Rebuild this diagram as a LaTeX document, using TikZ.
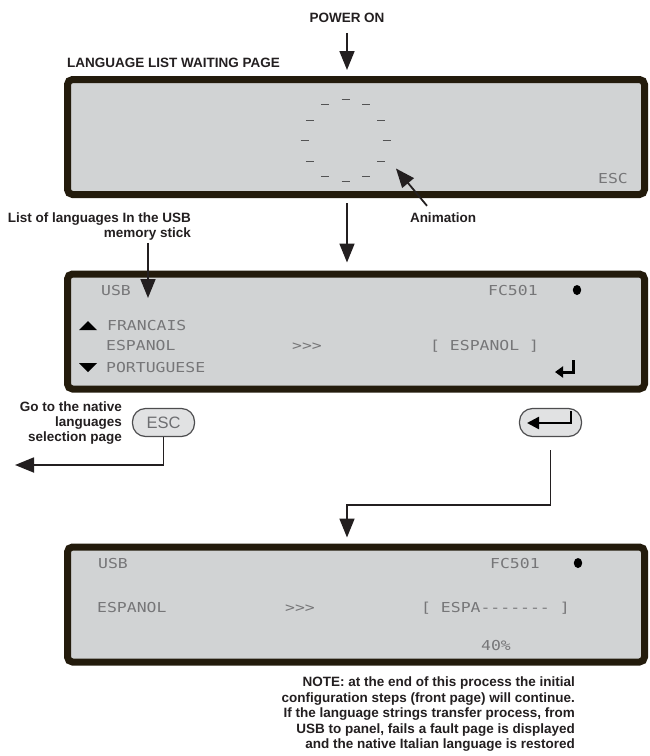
\documentclass[tikz,border=0pt]{standalone}
\usepackage{fontspec}
\setmainfont{Liberation Sans}
\newfontfamily\lcdfont[FakeStretch=1.2,Ligatures=TeXOff]{DejaVu Sans Mono}
\usetikzlibrary{arrows.meta}
\definecolor{screenfill}{RGB}{209,211,212}
\definecolor{screenedge}{RGB}{35,27,12}
\definecolor{lcdtext}{RGB}{118,118,120}
\definecolor{keyfill}{RGB}{225,226,227}
\definecolor{keyedge}{RGB}{77,77,79}
\definecolor{keytext}{RGB}{109,110,113}
\definecolor{ink}{RGB}{35,31,32}

\begin{document}
\begin{tikzpicture}[
  x=1pt,y=-1pt,
  screen/.style={draw=screenedge,fill=screenfill,line width=7pt,rounded corners=5pt,minimum width=577pt,minimum height=115pt,inner sep=0pt},
  lcd/.style={font=\lcdfont\fontsize{13.7}{14}\selectfont,text=lcdtext,inner sep=0pt,anchor=west,text height=10pt,text depth=0pt},
  keycap/.style={draw=keyedge,fill=keyfill,line width=1.2pt,rounded corners=13pt,minimum width=62pt,minimum height=28pt,inner sep=0pt},
  caption/.style={font=\bfseries\fontsize{13.5}{15}\selectfont,text=ink,inner sep=0pt},
  flow/.style={-{Triangle[length=19pt,width=15pt]},line width=1.8pt,draw=ink},
  ringtick/.style={draw=lcdtext!70!black,line width=1pt}
]
  \useasboundingbox (0,0) rectangle (649,756);
  \node[screen] (screen1) at (356,137) {};
  \node[screen] (screen2) at (356,331.5) {};
  \node[screen] (screen3) at (356,604.5) {};
  \node[caption] (power) at (347,18) {POWER ON};
  \node[caption,anchor=west] (waitlbl) at (67,63) {LANGUAGE LIST WAITING PAGE};
  \node[caption,anchor=north east,align=right] (listlbl) at (191,213) {List of languages In the USB\\memory stick};
  \node[caption] (anim) at (443,218) {Animation};
  \node[caption,anchor=north east,align=right] (gonative) at (122,402) {Go to the native\\languages\\selection page};
  \node[caption,anchor=north east,align=right,font=\bfseries\fontsize{13.5}{15.5}\selectfont] (note) at (575,677) {NOTE: at the end of this process the initial\\configuration steps (front page) will continue.\\If the language strings transfer process, from\\USB to panel, fails a fault page is displayed\\and the native Italian language is restored};
  \node[circle,minimum size=115pt,inner sep=0pt] (ring) at (345.5,140.5) {};
  \foreach \a in {0,30,...,330}
    \draw[ringtick] (ring) ++(\a:41) +(-4,0) -- +(4,0);
  \node[lcd] (esc1) at (598,178) {ESC};
  \node[lcd] (usb2) at (101,290) {USB};
  \node[lcd] (fc2) at (488,290) {FC501};
  \node[lcd] (fr2) at (107,325) {FRANCAIS};
  \node[lcd] (es2) at (106,345) {ESPANOL};
  \node[lcd] (to2) at (292,345) {>>>};
  \node[lcd] (sel2) at (430,345) {[ ESPANOL ]};
  \node[lcd] (pt2) at (106,367) {PORTUGUESE};
  \fill (577,290) circle[x radius=4.2,y radius=5];
  \fill (79,330) -- (97,330) -- (88,321) -- cycle;
  \fill (79,363) -- (97,363) -- (88,372) -- cycle;
  \draw[line width=3pt,-{Triangle[length=8pt,width=11pt]}] (573,360) -- (573,372) -- (555,372);
  \node[lcd] (usb3) at (98,563) {USB};
  \node[lcd] (fc3) at (490,563) {FC501};
  \fill (578,563) circle[x radius=4.2,y radius=5];
  \node[lcd] (es3) at (97,607) {ESPANOL};
  \node[lcd] (to3) at (285,607) {>>>};
  \node[lcd] (bar3) at (421,607) {[ ESPA------- ]};
  \node[lcd] (pct3) at (481,645) {40\%};
  \node[keycap,font=\fontsize{16.5}{18}\selectfont,text=keytext] (esckey) at (163.5,422.5) {ESC};
  \node[keycap] (enterkey) at (550.5,422.5) {};
  \draw[line width=2.5pt,-{Triangle[length=12pt,width=12pt]}] (571,411) -- (571,423) -- (527,423);
  \coordinate (listtip) at (148,298);
  \coordinate (exit) at (15,465);
  \coordinate (turn) at (347,505);
  \draw[flow,shorten <=10pt,shorten >=6pt] (power) -- (power |- screen1.north);
  \draw[flow,shorten <=5pt,shorten >=8pt] (power |- screen1.south) -- (power |- screen2.north);
  \draw[flow] ([xshift=-16pt,yshift=7pt]anim.north) -- (ring.-29);
  \draw[flow,shorten <=2pt] (listtip |- listlbl.south) -- (listtip);
  \draw[flow] (esckey.south) |- (exit);
  \draw[flow,shorten <=13pt,shorten >=6pt] (enterkey.south) |- (turn) -- (turn |- screen3.north);
\end{tikzpicture}
\end{document}
